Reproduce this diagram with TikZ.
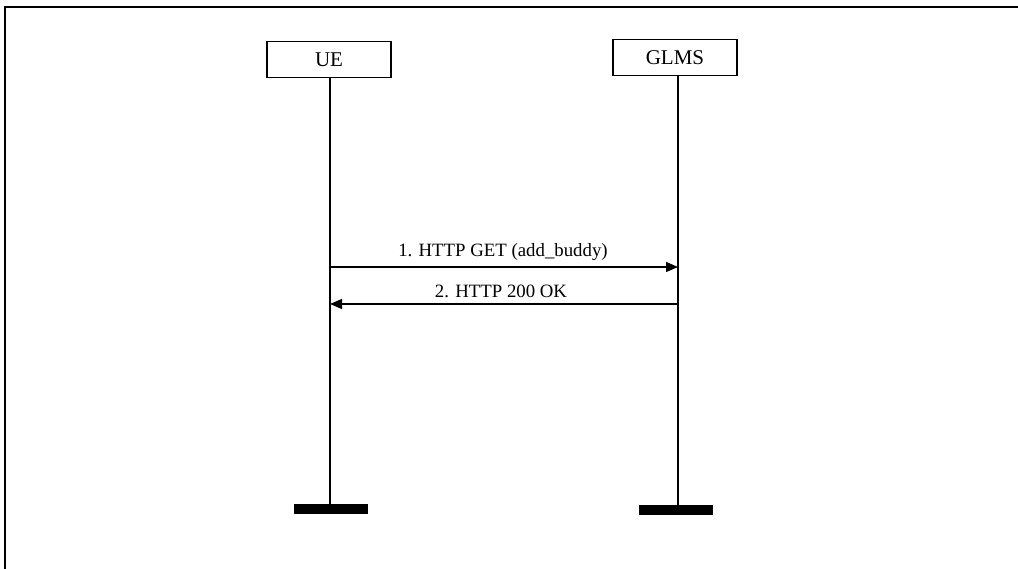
\documentclass[tikz,border=0pt]{standalone}
\usepackage{fontspec}
\setmainfont{Liberation Serif}
\usetikzlibrary{arrows.meta}
\begin{document}
\begin{tikzpicture}[x=1pt,y=-1pt,
  entity/.style={draw,line width=1.3pt,minimum width=124pt,minimum height=36pt,inner sep=0pt,font=\fontsize{21}{24}\selectfont},
  lifeline/.style={line width=2.5pt},
  endbar/.style={fill=black,minimum width=74pt,minimum height=10pt,inner sep=0pt},
  msg/.style={line width=1.3pt,-{Triangle[length=12pt,width=10pt]}},
  msglabel/.style={font=\fontsize{18.8}{22}\selectfont}]
\useasboundingbox (0,0) rectangle (1018,569);
\draw[line width=1.5pt] (5,569) -- (5,7) -- (1018,7);
\node[entity] (ue) at (329,59.5) {UE};
\node[entity] (glms) at (675,57.5) {GLMS};
\node[endbar] (uebar) at (331,509) {};
\node[endbar] (glmsbar) at (676,510) {};
\coordinate (uetop) at (330,77);
\coordinate (glmstop) at (678,76);
\draw[lifeline] (uetop) -- (uetop |- uebar.north);
\draw[line width=2pt] (glmstop) -- (glmstop |- glmsbar.north);
\coordinate (m1s) at (330,267);
\coordinate (m1e) at (678,267);
\coordinate (m2s) at (678,304);
\coordinate (m2e) at (330,304);
\draw[msg] (m1s) -- node[msglabel,above=2pt,xshift=-1pt] (l1) {1. HTTP GET (add\_buddy)} (m1e);
\draw[msg] (m2s) -- node[msglabel,above=2pt,xshift=-3pt] (l2) {2. HTTP 200 OK} (m2e);
\end{tikzpicture}
\end{document}
